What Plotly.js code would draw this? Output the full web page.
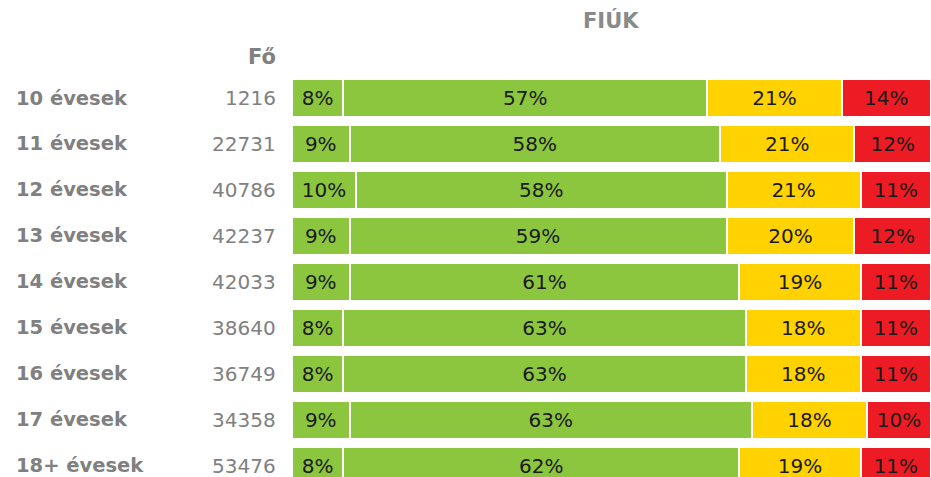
<!DOCTYPE html>
<html>
<head>
<meta charset="utf-8">
<script src="https://cdn.plot.ly/plotly-3.0.1.min.js"></script>
<style>html,body{margin:0;padding:0;background:#fff;}#chart{width:931px;height:477px;}</style>
</head>
<body>
<div id="chart"></div>
<script>
const ageLabels = ["10 évesek","11 évesek","12 évesek","13 évesek","14 évesek","15 évesek","16 évesek","17 évesek","18+ évesek"];
const counts = ["1216","22731","40786","42237","42033","38640","36749","34358","53476"];
const seg1 = [8, 9, 10, 9, 9, 8, 8, 9, 8];
const seg2 = [57, 58, 58, 59, 61, 63, 63, 63, 62];
const seg3 = [21, 21, 21, 20, 19, 18, 18, 18, 19];
const seg4 = [14, 12, 11, 12, 11, 11, 11, 10, 11];

const FONT = "DejaVu Sans, Verdana, sans-serif";
const idx = ageLabels.map((_, i) => i);
const colors = ["#8CC63F", "#8CC63F", "#FFD200", "#ED1C24"];
const series = [seg1, seg2, seg3, seg4];

const traces = series.map((vals, k) => ({
  type: "bar",
  orientation: "h",
  x: vals,
  y: idx,
  marker: {color: colors[k], line: {color: "#ffffff", width: 2}},
  text: vals.map(v => v + "%"),
  texttemplate: "%{text}",
  textposition: "inside",
  insidetextanchor: "middle",
  textangle: 0,
  constraintext: "none",
  textfont: {family: FONT, size: 20, color: "#1a1a1a"},
  hoverinfo: "skip",
  showlegend: false
}));

const annotations = [];
ageLabels.forEach((lab, i) => {
  annotations.push({
    text: "<b>" + lab + "</b>",
    xref: "paper", yref: "y",
    x: (14 - 292) / 639, y: i,
    xanchor: "left", yanchor: "middle",
    showarrow: false,
    font: {family: FONT, size: 19.5, color: "#808080"}
  });
  annotations.push({
    text: counts[i],
    xref: "paper", yref: "y",
    x: (278 - 292) / 639, y: i,
    xanchor: "right", yanchor: "middle",
    showarrow: false,
    font: {family: FONT, size: 20, color: "#808080"}
  });
});
annotations.push({
  text: "<b>Fő</b>", xref: "paper", yref: "paper",
  x: (278 - 292) / 639, y: (477 - 57) / 402,
  xanchor: "right", yanchor: "middle", showarrow: false,
  font: {family: FONT, size: 21, color: "#808080"}
});
annotations.push({
  text: "<b>FIÚK</b>", xref: "paper", yref: "paper",
  x: (611 - 292) / 639, y: (477 - 20) / 402,
  xanchor: "center", yanchor: "middle", showarrow: false,
  font: {family: FONT, size: 21, color: "#8a8a8a"}
});

const layout = {
  width: 931, height: 477,
  margin: {l: 292, r: 0, t: 75, b: 0},
  barmode: "stack",
  bargap: 0.17,
  paper_bgcolor: "#ffffff",
  plot_bgcolor: "#ffffff",
  xaxis: {range: [0, 100], visible: false, fixedrange: true},
  yaxis: {
    range: [8.24, -0.5],
    showticklabels: false, ticks: "",
    showgrid: false, zeroline: false, showline: false
  },
  annotations: annotations,
  showlegend: false
};

Plotly.newPlot("chart", traces, layout, {displayModeBar: false, staticPlot: true});
</script>
</body>
</html>
